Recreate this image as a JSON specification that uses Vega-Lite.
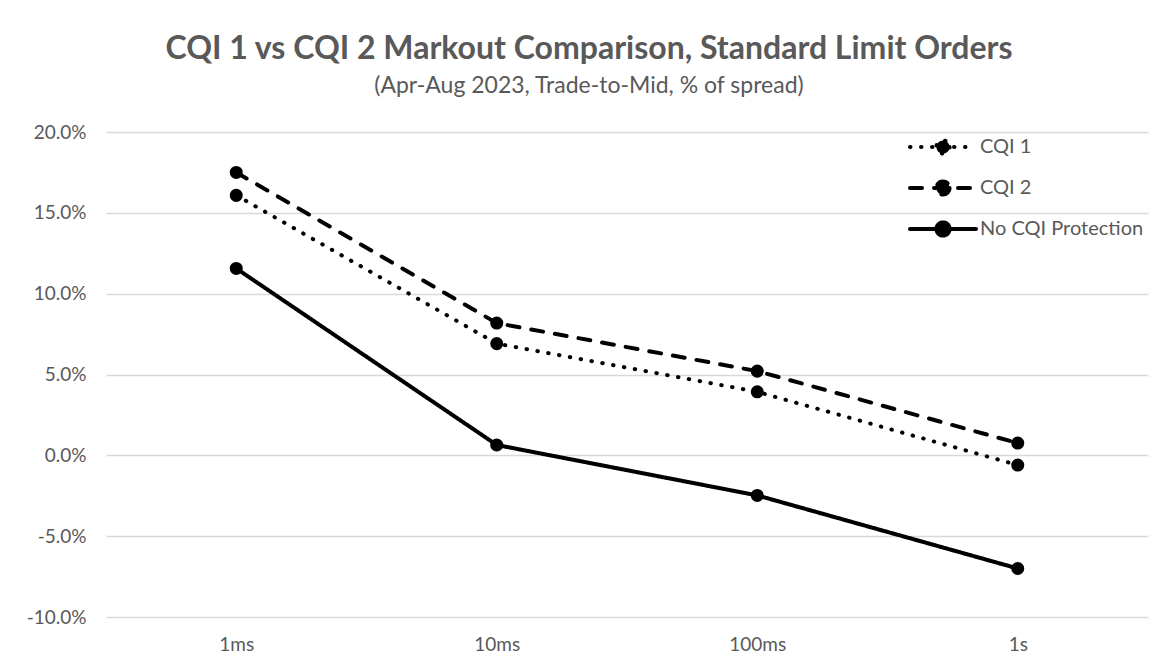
{
  "$schema": "https://vega.github.io/schema/vega-lite/v6.json",
  "autosize": {"type": "none"},
  "width": 1042,
  "height": 485,
  "padding": {"left": 106, "top": 132, "right": 8, "bottom": 53},
  "background": "white",
  "title": {
    "text": "CQI 1 vs CQI 2 Markout Comparison, Standard Limit Orders",
    "subtitle": "(Apr-Aug 2023, Trade-to-Mid, % of spread)",
    "anchor": "middle",
    "dx": -38,
    "offset": 24,
    "font": "Lato",
    "fontSize": 32,
    "fontWeight": "bold",
    "color": "#595959",
    "subtitleFont": "Lato",
    "subtitleFontSize": 23,
    "subtitleColor": "#595959",
    "subtitlePadding": 9
  },
  "data": {
    "values": [
      {"t": "1ms", "series": "CQI 1", "v": 0.1608},
      {"t": "10ms", "series": "CQI 1", "v": 0.0691},
      {"t": "100ms", "series": "CQI 1", "v": 0.0393},
      {"t": "1s", "series": "CQI 1", "v": -0.0060},
      {"t": "1ms", "series": "CQI 2", "v": 0.1750},
      {"t": "10ms", "series": "CQI 2", "v": 0.0818},
      {"t": "100ms", "series": "CQI 2", "v": 0.0521},
      {"t": "1s", "series": "CQI 2", "v": 0.0076},
      {"t": "1ms", "series": "No CQI Protection", "v": 0.1156},
      {"t": "10ms", "series": "No CQI Protection", "v": 0.0064},
      {"t": "100ms", "series": "No CQI Protection", "v": -0.0248},
      {"t": "1s", "series": "No CQI Protection", "v": -0.0700}
    ]
  },
  "encoding": {
    "x": {
      "field": "t", "type": "ordinal", "sort": ["1ms", "10ms", "100ms", "1s"],
      "scale": {"paddingInner": 0, "paddingOuter": 0},
      "axis": {"title": null, "labelAngle": 0, "domain": false, "ticks": false, "grid": false,
               "labelFont": "Lato", "labelFontSize": 19, "labelColor": "#595959", "labelPadding": 18}
    },
    "y": {
      "field": "v", "type": "quantitative",
      "scale": {"domain": [-0.1, 0.2], "nice": false, "zero": false},
      "axis": {"title": null, "format": ".1%", "values": [-0.1, -0.05, 0, 0.05, 0.1, 0.15, 0.2],
               "domain": false, "ticks": false, "grid": true, "gridColor": "#d9d9d9", "gridWidth": 1.5,
               "labelFont": "Lato", "labelFontSize": 19, "labelColor": "#595959", "labelPadding": 20}
    }
  },
  "layer": [
    {
      "mark": {"type": "line", "color": "black", "strokeWidth": 4, "strokeCap": "round"},
      "encoding": {
        "detail": {"field": "series"},
        "strokeDash": {
          "field": "series", "type": "nominal",
          "scale": {"domain": ["CQI 1", "CQI 2", "No CQI Protection"], "range": [[0.5, 10.5], [12, 12], [1, 0]]},
          "legend": {
            "title": null,
            "orient": "none",
            "legendX": 824,
            "legendY": 2,
            "padding": 0,
            "symbolType": "M-3,0H3M0.6,0A0.6,0.6,0,1,1,-0.6,0A0.6,0.6,0,1,1,0.6,0Z",
            "symbolSize": 484,
            "symbolStrokeColor": "black",
            "symbolFillColor": "black",
            "symbolStrokeWidth": 4,
            "labelOffset": 24,
            "rowPadding": 11,
            "labelFont": "Lato",
            "labelFontSize": 20,
            "labelLimit": 400,
            "labelColor": "#595959",
            "encode": {"symbols": {"update": {"strokeCap": {"value": "round"}}}}
          }
        }
      }
    },
    {
      "mark": {"type": "point", "filled": true, "color": "black", "size": 170, "opacity": 1},
      "encoding": {"detail": {"field": "series"}}
    }
  ],
  "config": {
    "view": {"stroke": null},
    "locale": {"number": {"decimal": ".", "thousands": ",", "grouping": [3], "currency": ["$", ""], "minus": "-"}}
  }
}
